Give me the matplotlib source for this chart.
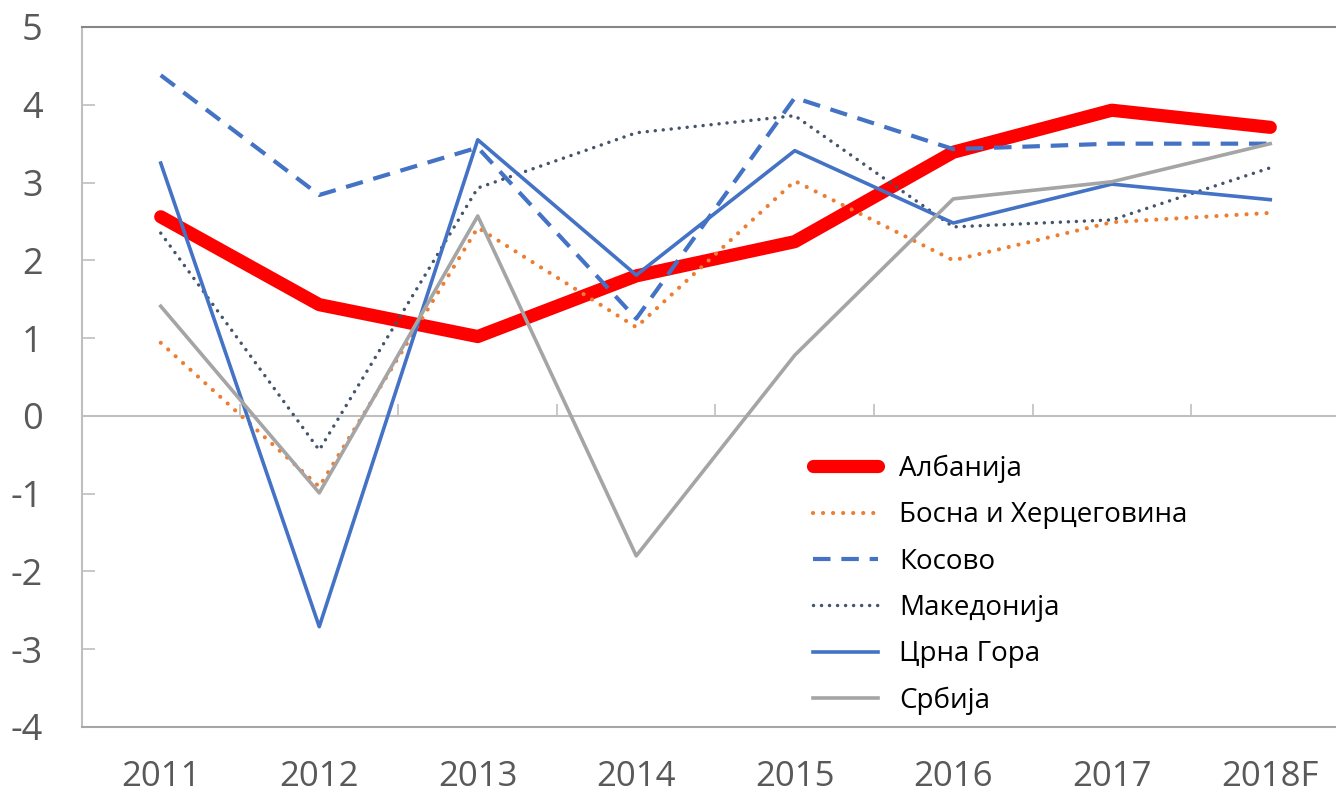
import matplotlib
matplotlib.use("Agg")
import matplotlib.pyplot as plt

years = ["2011", "2012", "2013", "2014", "2015", "2016", "2017", "2018F"]
albania = [2.56, 1.43, 1.02, 1.80, 2.24, 3.39, 3.93, 3.71]
bih = [0.94, -0.91, 2.42, 1.14, 3.02, 2.00, 2.49, 2.61]
kosovo = [4.38, 2.84, 3.45, 1.25, 4.09, 3.43, 3.50, 3.50]
macedonia = [2.35, -0.44, 2.93, 3.64, 3.86, 2.43, 2.52, 3.19]
montenegro = [3.25, -2.71, 3.55, 1.81, 3.41, 2.48, 2.98, 2.78]
serbia = [1.41, -0.99, 2.57, -1.80, 0.78, 2.79, 3.01, 3.50]
labels = ["Албанија", "Босна и Херцеговина", "Косово", "Македонија", "Црна Гора", "Србија"]
yticks = [-4, -3, -2, -1, 0, 1, 2, 3, 4, 5]

W, H = 1336, 799
fig = plt.figure(figsize=(W / 100, H / 100), dpi=100)
left_px, right_px, top_px, bot_px = 81.5, 1349.5, 27, 727
ax = fig.add_axes([left_px / W, 1 - bot_px / H, (right_px - left_px) / W, (bot_px - top_px) / H])

x = list(range(len(years)))
ax.plot(x, albania, color="#FF0000", lw=9.5, solid_capstyle="round", solid_joinstyle="round", label=labels[0], zorder=2)
ax.plot(x, bih, color="#ED7D31", lw=3.0, linestyle=(0, (0.01, 2.4)), dash_capstyle="round", label=labels[1], zorder=3)
ax.plot(x, kosovo, color="#4472C4", lw=3.0, linestyle=(0, (4.2, 2.6)), dash_capstyle="butt", label=labels[2], zorder=3)
ax.plot(x, macedonia, color="#44546A", lw=2.5, linestyle=(0, (0.01, 2.3)), dash_capstyle="round", label=labels[3], zorder=3)
ax.plot(x, montenegro, color="#4472C4", lw=2.6, label=labels[4], zorder=3)
ax.plot(x, serbia, color="#A5A5A5", lw=2.6, label=labels[5], zorder=3)

ax.set_xlim(-0.5, len(years) - 0.5)
ax.set_ylim(-4, 5)

ax.spines["right"].set_visible(False)
ax.spines["left"].set_color("#BFBFBF")
ax.spines["left"].set_linewidth(1.5)
ax.spines["bottom"].set_color("#A6A6A6")
ax.spines["bottom"].set_linewidth(1.5)
ax.spines["top"].set_color("#868686")
ax.spines["top"].set_linewidth(1.5)

ax.set_yticks(yticks)
ax.set_yticklabels([str(v) for v in yticks])
ax.tick_params(axis="y", direction="in", length=9.5, width=1.2, color="#BFBFBF",
               labelsize=26, labelcolor="#595959", pad=28)
ax.set_xticks(x)
ax.set_xticklabels(years)
ax.tick_params(axis="x", length=0, labelsize=25, labelcolor="#595959", pad=24)
for lab in ax.get_xticklabels() + ax.get_yticklabels():
    lab.set_fontfamily("Open Sans")

# zero axis line with category-boundary ticks
sec = ax.secondary_xaxis(4 / 9)
sec.spines["bottom"].set_color("#BFBFBF")
sec.spines["bottom"].set_linewidth(1.5)
sec.set_xticks([i + 0.5 for i in x])
sec.tick_params(direction="in", length=8.5, width=1.2, color="#BFBFBF", labelbottom=False)

leg = fig.legend(loc="upper left", bbox_to_anchor=(810 / W, 1 - 452 / H), bbox_transform=fig.transFigure,
                 prop={"family": "Open Sans", "size": 20}, frameon=True, facecolor="white",
                 edgecolor="none", framealpha=1, borderpad=0.1, borderaxespad=0,
                 handlelength=2.35, handletextpad=0.75, labelspacing=0.66)
for t in leg.get_texts():
    t.set_color("#000000")

fig.savefig("out.png", dpi=100)
